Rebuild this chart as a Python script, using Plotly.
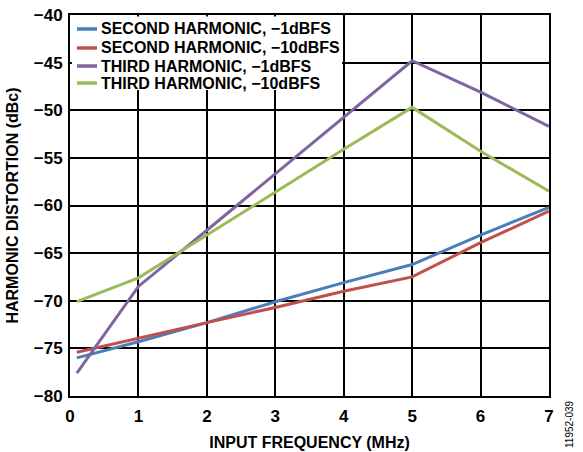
import plotly.graph_objects as go

freq = [0.1, 1, 2, 3, 4, 5, 6, 7]
second_1dbfs = [-76.0, -74.3, -72.3, -70.1, -68.1, -66.2, -63.1, -60.2]
second_10dbfs = [-75.4, -73.9, -72.3, -70.7, -69.0, -67.5, -63.9, -60.6]
third_1dbfs = [-77.6, -68.5, -62.6, -56.7, -50.7, -44.8, -48.1, -51.7]
third_10dbfs = [-70.1, -67.6, -63.1, -58.6, -54.1, -49.7, -54.3, -58.5]

names = ["SECOND HARMONIC, \u22121dBFS", "SECOND HARMONIC, \u221210dBFS",
         "THIRD HARMONIC, \u22121dBFS", "THIRD HARMONIC, \u221210dBFS"]
series = [second_1dbfs, second_10dbfs, third_1dbfs, third_10dbfs]
colors = ["#4A7EBB", "#C0504D", "#8064A2", "#9BBB59"]

y_ticks = [-80, -75, -70, -65, -60, -55, -50, -45, -40]
y_ticktext = ["\u2212" + str(abs(v)) for v in y_ticks]
x_ticks = [0, 1, 2, 3, 4, 5, 6, 7]

font_family = "Liberation Sans, Arial, sans-serif"

fig = go.Figure()
for name, ys, c in zip(names, series, colors):
    fig.add_trace(go.Scatter(x=freq, y=ys, mode="lines", name=name,
                             line=dict(color=c, width=3), showlegend=False))

# Compact legend (white box covering the grid, short swatches, tight rows)
fig.add_shape(type="rect", xref="paper", yref="paper",
              x0=0.004, x1=0.568, y0=0.803, y1=0.996,
              fillcolor="white", line=dict(width=0), layer="above")
legend_rows_y = [0.9633, 0.9134, 0.8661, 0.8215]
for name, c, ly in zip(names, colors, legend_rows_y):
    fig.add_shape(type="line", xref="paper", yref="paper",
                  x0=0.0146, x1=0.0564, y0=ly, y1=ly,
                  line=dict(color=c, width=3.5), layer="above")
    fig.add_annotation(text="<b>" + name + "</b>", xref="paper", yref="paper",
                       x=0.0605, y=ly, xanchor="left", yanchor="middle",
                       showarrow=False,
                       font=dict(family=font_family, size=16, color="black"))

fig.update_layout(
    width=583, height=452,
    margin=dict(l=70, r=34, t=15, b=56, autoexpand=False),
    plot_bgcolor="white", paper_bgcolor="white",
    font=dict(family=font_family, size=13, color="black"),
    showlegend=False,
    xaxis=dict(range=[0, 7], tickvals=x_ticks, showgrid=True, gridcolor="black",
               gridwidth=1.5, showline=True, linecolor="black", linewidth=2,
               mirror=True, ticks="", zeroline=False, automargin=False,
               ticklabelstandoff=4,
               tickfont=dict(family=font_family, size=17, weight="bold"),
               title=dict(text="<b>INPUT FREQUENCY (MHz)</b>",
                          font=dict(family=font_family, size=16), standoff=11)),
    yaxis=dict(range=[-80, -40], tickvals=y_ticks, ticktext=y_ticktext,
               showgrid=True, gridcolor="black", gridwidth=1.5,
               showline=True, linecolor="black", linewidth=2, mirror=True,
               ticks="", zeroline=False, automargin=False,
               ticklabelstandoff=2,
               tickfont=dict(family=font_family, size=17, weight="bold"),
               title=dict(text="<b>HARMONIC DISTORTION (dBc)</b>",
                          font=dict(family=font_family, size=16), standoff=11)),
)
fig.add_annotation(text="11952-039", xref="paper", yref="paper",
                   x=1.044, y=-0.005, xanchor="center", yanchor="top",
                   textangle=-90, showarrow=False,
                   font=dict(family=font_family, size=10, color="black"))
fig.write_html("out.html", config={"displayModeBar": False},
               post_script="document.body.style.margin='0';")
